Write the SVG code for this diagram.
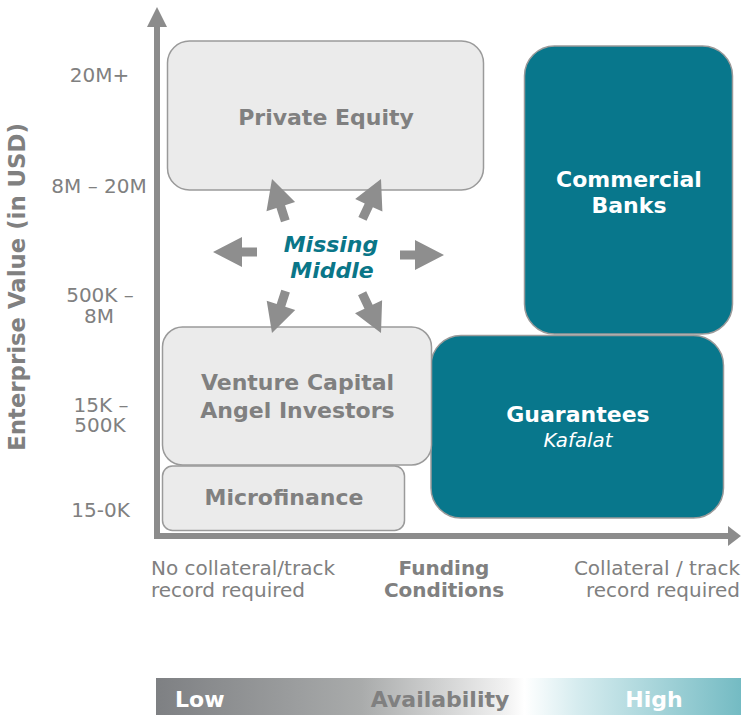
<svg xmlns="http://www.w3.org/2000/svg" width="741" height="715" viewBox="0 0 741 715">
<defs>
<linearGradient id="avail" x1="156" y1="0" x2="741" y2="0" gradientUnits="userSpaceOnUse">
<stop offset="0" stop-color="#7e8083"/>
<stop offset="0.35" stop-color="#a9abab"/>
<stop offset="0.6" stop-color="#f2f2f2"/>
<stop offset="0.63" stop-color="#ffffff"/>
<stop offset="0.72" stop-color="#d6ecef"/>
<stop offset="1" stop-color="#74bbc3"/>
</linearGradient>
<path id="blk" d="M0,0 L-29,-15 L-29,-4.5 L-44,-4.5 L-44,4.5 L-29,4.5 L-29,15 Z"/>
</defs>
<style>
.t{font-family:"DejaVu Sans","Liberation Sans",sans-serif}
.lbl{font-size:20px;fill:#808080}
.ttl{font-size:22.8px;font-weight:bold;fill:#808080}
.gbox{fill:#ebebeb;stroke:#9a9a9a;stroke-width:1.5}
.tbox{fill:#08778c;stroke:#9a9a9a;stroke-width:1.5}
.gtxt{font-size:22px;font-weight:bold;fill:#808080}
.wtxt{font-size:22px;font-weight:bold;fill:#ffffff}
.ax{fill:#8c8c8c}
.arr{fill:#8e8e8e}
</style>
<rect x="0" y="0" width="741" height="715" fill="#ffffff"/>

<g id="axes">
<rect class="ax" x="154" y="26" width="6" height="513"/>
<polygon class="ax" points="157,7 147,27 167,27"/>
<rect class="ax" x="154" y="533" width="575" height="6"/>
<polygon class="ax" points="741,536 728,526 728,546"/>
</g>

<g id="axis-labels" class="t">
<text class="ttl" x="0" y="0" transform="translate(25,287) rotate(-90)" text-anchor="middle">Enterprise Value (in USD)</text>
<text class="lbl" x="99.5" y="82" text-anchor="middle">20M+</text>
<text class="lbl" x="99" y="193" text-anchor="middle">8M – 20M</text>
<text class="lbl" y="302" text-anchor="middle"><tspan x="100">500K –</tspan><tspan x="99" dy="21">8M</tspan></text>
<text class="lbl" y="412" text-anchor="middle"><tspan x="101">15K –</tspan><tspan x="100" dy="20">500K</tspan></text>
<text class="lbl" x="100.5" y="517" text-anchor="middle">15-0K</text>
<text class="lbl" y="575"><tspan x="151">No collateral/track</tspan><tspan x="151" dy="22">record required</tspan></text>
<text class="lbl" y="575" text-anchor="middle" font-weight="bold"><tspan x="444">Funding</tspan><tspan x="444" dy="22">Conditions</tspan></text>
<text class="lbl" y="575" text-anchor="end"><tspan x="740">Collateral / track</tspan><tspan x="740" dy="22">record required</tspan></text>
</g>

<g id="private-equity">
<rect class="gbox" x="167.5" y="41" width="316" height="149" rx="22"/>
<text class="t gtxt" x="326" y="125" text-anchor="middle">Private Equity</text>
</g>

<g id="commercial-banks">
<rect class="tbox" x="524.5" y="46" width="208" height="288" rx="30"/>
<text class="t wtxt" y="187" text-anchor="middle"><tspan x="629">Commercial</tspan><tspan x="629" dy="26">Banks</tspan></text>
</g>

<g id="guarantees">
<rect class="tbox" x="431" y="335.5" width="292.5" height="182.5" rx="30"/>
<text class="t wtxt" x="578" y="422" text-anchor="middle">Guarantees</text>
<text class="t" x="578" y="447" text-anchor="middle" font-size="19.8" font-style="italic" fill="#ffffff">Kafalat</text>
</g>

<g id="venture-capital">
<rect class="gbox" x="162.5" y="327" width="269" height="138" rx="20"/>
<text class="t gtxt" y="390" text-anchor="middle"><tspan x="297.5">Venture Capital</tspan><tspan x="297.5" dy="28">Angel Investors</tspan></text>
</g>

<g id="microfinance">
<rect class="gbox" x="162.5" y="466" width="242" height="64.5" rx="10"/>
<text class="t gtxt" x="284" y="505" text-anchor="middle">Microfinance</text>
</g>

<g id="missing-middle">
<text class="t" y="252" text-anchor="middle" font-size="22" font-weight="bold" font-style="italic" fill="#0a7688"><tspan x="331">Missing</tspan><tspan x="332" dy="26">Middle</tspan></text>
</g>

<g id="connectors" class="arr">
<use href="#blk" transform="translate(213,252) rotate(180)"/>
<use href="#blk" transform="translate(444,255)"/>
<use href="#blk" transform="translate(272,179) rotate(-107.6)"/>
<use href="#blk" transform="translate(381,179) rotate(-65.1)"/>
<use href="#blk" transform="translate(272,333) rotate(108)"/>
<use href="#blk" transform="translate(381,333) rotate(64.6)"/>
</g>

<g id="availability-bar">
<rect x="156" y="678" width="585" height="37" fill="url(#avail)"/>
<text class="t" x="175" y="707" font-size="22" font-weight="bold" fill="#ffffff">Low</text>
<text class="t" x="440" y="707" text-anchor="middle" font-size="22" font-weight="bold" fill="#808080">Availability</text>
<text class="t" x="654" y="707" text-anchor="middle" font-size="22" font-weight="bold" fill="#ffffff">High</text>
</g>
</svg>
